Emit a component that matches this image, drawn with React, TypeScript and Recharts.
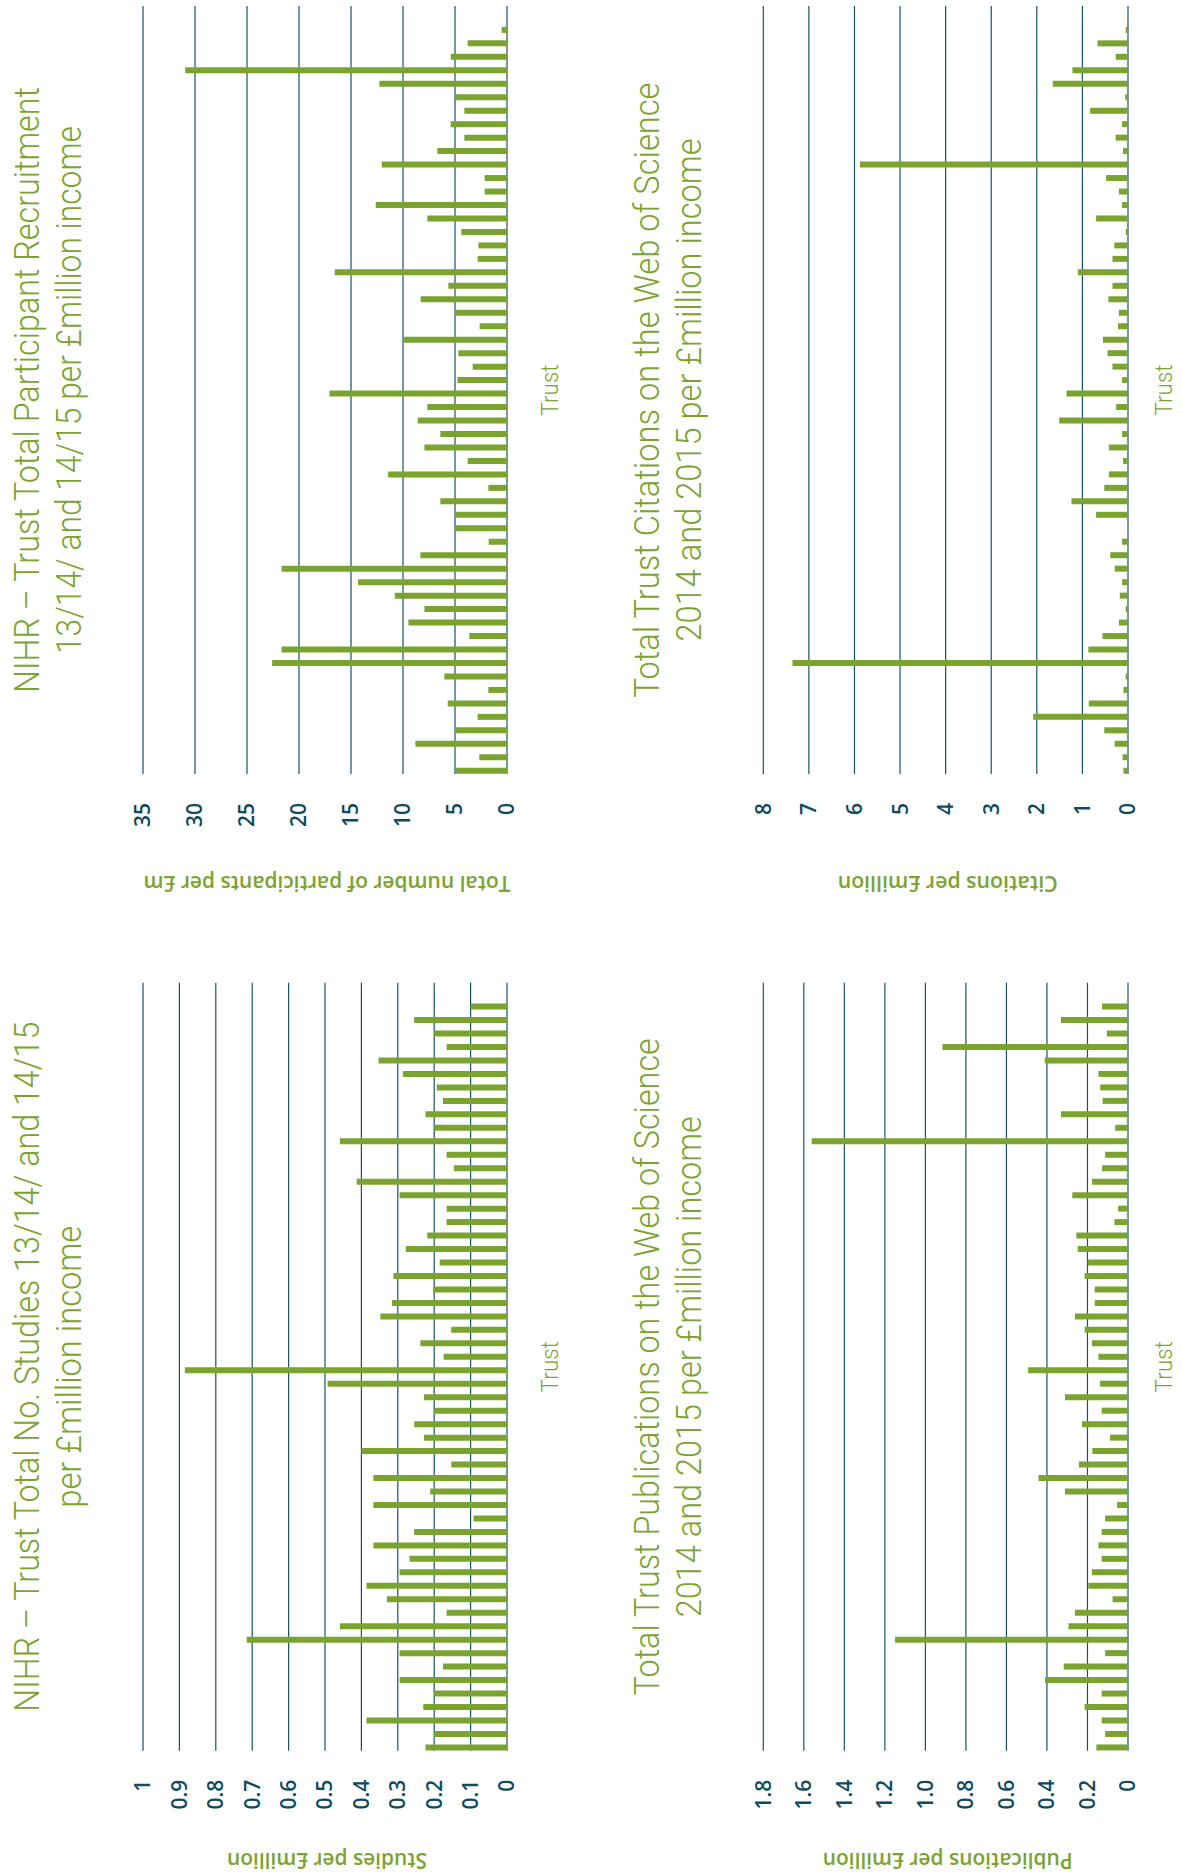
import React from "react";
import { BarChart, Bar, XAxis, YAxis, CartesianGrid } from "recharts";

// 56 trusts, same order in all four charts (first trust = left end of each axis)
const TRUSTS = [
    "T01", "T02", "T03", "T04", "T05", "T06", "T07", "T08", "T09", "T10",
    "T11", "T12", "T13", "T14", "T15", "T16", "T17", "T18", "T19", "T20",
    "T21", "T22", "T23", "T24", "T25", "T26", "T27", "T28", "T29", "T30",
    "T31", "T32", "T33", "T34", "T35", "T36", "T37", "T38", "T39", "T40",
    "T41", "T42", "T43", "T44", "T45", "T46", "T47", "T48", "T49", "T50",
    "T51", "T52", "T53", "T54", "T55", "T56",
];

const STUDIES = [
    0.224, 0.2, 0.386, 0.23, 0.2, 0.295, 0.176, 0.295, 0.715, 0.459,
    0.166, 0.33, 0.386, 0.295, 0.268, 0.367, 0.255, 0.092, 0.367, 0.211,
    0.367, 0.153, 0.4, 0.228, 0.255, 0.2, 0.228, 0.493, 0.885, 0.174,
    0.238, 0.153, 0.348, 0.316, 0.203, 0.312, 0.185, 0.278, 0.219, 0.166,
    0.166, 0.295, 0.413, 0.146, 0.166, 0.459, 0.2, 0.224, 0.176, 0.193,
    0.286, 0.353, 0.166, 0.2, 0.255, 0.1,
];

const PARTICIPANTS = [
    4.96, 2.66, 8.81, 4.93, 2.82, 5.7, 1.79, 6.02, 22.58, 21.68,
    3.62, 9.48, 7.94, 10.79, 14.32, 21.68, 8.33, 1.76, 4.96, 4.96,
    6.41, 1.79, 11.43, 3.78, 7.94, 6.41, 8.58, 7.66, 17.07, 4.77,
    3.3, 4.68, 9.96, 2.63, 4.93, 8.3, 5.64, 16.56, 2.82, 2.75,
    4.39, 7.66, 12.62, 2.15, 2.15, 12.04, 6.69, 4.1, 5.41, 4.1,
    4.96, 12.27, 30.94, 5.41, 3.78, 0.51,
];

const PUBLICATIONS = [
    0.156, 0.113, 0.13, 0.214, 0.13, 0.41, 0.317, 0.113, 1.15, 0.294,
    0.262, 0.076, 0.196, 0.178, 0.13, 0.146, 0.13, 0.113, 0.054, 0.311,
    0.442, 0.242, 0.176, 0.089, 0.227, 0.13, 0.311, 0.138, 0.493, 0.146,
    0.178, 0.214, 0.262, 0.164, 0.164, 0.214, 0.199, 0.248, 0.255, 0.067,
    0.049, 0.275, 0.178, 0.128, 0.113, 1.561, 0.063, 0.331, 0.125, 0.137,
    0.146, 0.411, 0.916, 0.104, 0.331, 0.128,
];

const CITATIONS = [
    0.1, 0.12, 0.29, 0.52, 2.08, 0.86, 0.1, 0.05, 7.36, 0.87,
    0.56, 0.2, 0.05, 0.18, 0.13, 0.29, 0.39, 0.13, 0, 0.7,
    1.24, 0.52, 0.42, 0.11, 0.42, 0.13, 1.51, 0.26, 1.35, 0.13,
    0.34, 0.45, 0.55, 0.22, 0.2, 0.43, 0.34, 1.1, 0.34, 0.3,
    0.05, 0.7, 0.13, 0.2, 0.48, 5.88, 0.11, 0.27, 0.13, 0.83,
    0.06, 1.65, 1.22, 0.27, 0.67, 0.05,
];

const STUDY_TICKS = [0, 0.1, 0.2, 0.3, 0.4, 0.5, 0.6, 0.7, 0.8, 0.9, 1];
const STUDY_TICK_LABELS = ["0", "0.1", "0.2", "0.3", "0.4", "0.5", "0.6", "0.7", "0.8", "0.9", "1"];
const PARTICIPANT_TICKS = [0, 5, 10, 15, 20, 25, 30, 35];
const PARTICIPANT_TICK_LABELS = ["0", "5", "10", "15", "20", "25", "30", "35"];
const PUBLICATION_TICKS = [0, 0.2, 0.4, 0.6, 0.8, 1, 1.2, 1.4, 1.6, 1.8];
const PUBLICATION_TICK_LABELS = ["0", "0.2", "0.4", "0.6", "0.8", "1.0", "1.2", "1.4", "1.6", "1.8"];
const CITATION_TICKS = [0, 1, 2, 3, 4, 5, 6, 7, 8];
const CITATION_TICK_LABELS = ["0", "1", "2", "3", "4", "5", "6", "7", "8"];

const GREEN = "#7ba32f";
const TEAL = "#0f4a5f";
const GRID = "#17526a";
const AXIS = "#0b4459";

// page is laid out landscape, then turned a quarter to the left
const PAGE_W = 1876;
const PAGE_H = 1182;
const BAND = 13.47;
const BAR = 6;
const Y_AXIS_W = 60;

const LEFT_X = [125.3, 893.3];
const RIGHT_X = [1102, 1870];
const TOP_Y = [143, 507];
const BOTTOM_Y = [763.3, 1128];

const PANELS = [
    {
        box: { x: 0, y: 0, w: 940, h: 560 },
        px: LEFT_X, py: TOP_Y,
        values: STUDIES, ticks: STUDY_TICKS, labels: STUDY_TICK_LABELS,
        title: ["NIHR – Trust Total No. Studies 13/14/ and 14/15", "per £million income"],
        titleW: [690, 282],
        axisTitle: "Studies per £million", axisW: 200,
    },
    {
        box: { x: 980, y: 0, w: 896, h: 560 },
        px: RIGHT_X, py: TOP_Y,
        values: PARTICIPANTS, ticks: PARTICIPANT_TICKS, labels: PARTICIPANT_TICK_LABELS,
        title: ["NIHR – Trust Total Participant Recruitment", "13/14/ and 14/15 per £million income"],
        titleW: [606, 528],
        axisTitle: "Total number of participants per £m", axisW: 367,
    },
    {
        box: { x: 0, y: 620, w: 940, h: 560 },
        px: LEFT_X, py: BOTTOM_Y,
        values: PUBLICATIONS, ticks: PUBLICATION_TICKS, labels: PUBLICATION_TICK_LABELS,
        title: ["Total Trust Publications on the Web of Science", "2014 and 2015 per £million income"],
        titleW: [657, 501],
        axisTitle: "Publications per £million", axisW: 250,
    },
    {
        box: { x: 980, y: 620, w: 896, h: 560 },
        px: RIGHT_X, py: BOTTOM_Y,
        values: CITATIONS, ticks: CITATION_TICKS, labels: CITATION_TICK_LABELS,
        title: ["Total Trust Citations on the Web of Science", "2014 and 2015 per £million income"],
        titleW: [615, 503],
        axisTitle: "Citations per £million", axisW: 220,
    },
];

const Panel = ({ panel }) => {
    const { box, px, py, values, ticks, labels } = panel;
    const data = TRUSTS.map((trust, i) => ({ trust, value: values[i] }));
    const padLeft = -(BAND - BAR) / 2;
    const padRight = px[1] - px[0] - TRUSTS.length * BAND - padLeft;

    return (
        <div style={{ position: "absolute", left: box.x, top: box.y }}>
            <BarChart
                width={box.w}
                height={box.h}
                data={data}
                margin={{
                    top: py[0] - box.y,
                    bottom: box.y + box.h - py[1],
                    left: px[0] - box.x - Y_AXIS_W,
                    right: box.x + box.w - px[1],
                }}
            >
                <CartesianGrid vertical={false} stroke={GRID} strokeWidth={1.2} />
                <YAxis
                    type="number"
                    domain={[ticks[0], ticks[ticks.length - 1]]}
                    ticks={ticks}
                    interval={0}
                    width={Y_AXIS_W}
                    axisLine={false}
                    tickLine={false}
                    tickSize={0}
                    tickMargin={29}
                    tickFormatter={(v) => labels[ticks.indexOf(v)]}
                    tick={{ fill: TEAL, fontSize: 21, fontFamily: "Open Sans", fontWeight: 600 }}
                />
                <Bar dataKey="value" fill={GREEN} barSize={BAR} isAnimationActive={false} />
                <XAxis
                    dataKey="trust"
                    type="category"
                    height={0}
                    tick={false}
                    tickLine={false}
                    interval={0}
                    padding={{ left: padLeft, right: padRight }}
                    axisLine={{ stroke: AXIS, strokeWidth: 2 }}
                />
            </BarChart>
        </div>
    );
};

// titles, axis titles and "Trust" captions
const Captions = () => (
    <svg
        width={PAGE_W}
        height={PAGE_H}
        style={{ position: "absolute", left: 0, top: 0, overflow: "visible" }}
    >
        {PANELS.map((p, i) => {
            const cx = (p.px[0] + p.px[1]) / 2;
            const cy = (p.py[0] + p.py[1]) / 2 + 2;
            // keep the bottom-row caption inside the page edge
            const trustY = Math.min(p.py[1] + 51, PAGE_H - 10);
            return (
                <g key={i} fill={GREEN}>
                    {p.title.map((line, j) => (
                        <text
                            key={j}
                            x={cx}
                            y={p.py[0] - (j === 0 ? 104 : 62)}
                            textAnchor="middle"
                            fontFamily="Roboto"
                            fontWeight={300}
                            fontSize={35}
                            textLength={p.titleW[j]}
                            lengthAdjust="spacingAndGlyphs"
                        >
                            {line}
                        </text>
                    ))}
                    <text
                        transform={`translate(${p.px[0] - 110},${cy}) rotate(-90)`}
                        textAnchor="middle"
                        dominantBaseline="central"
                        fontFamily="Open Sans"
                        fontWeight={600}
                        fontSize={21}
                        textLength={p.axisW}
                        lengthAdjust="spacingAndGlyphs"
                    >
                        {p.axisTitle}
                    </text>
                    <text
                        x={cx}
                        y={trustY}
                        textAnchor="middle"
                        fontFamily="Roboto"
                        fontWeight={300}
                        fontSize={24}
                        textLength={51}
                        lengthAdjust="spacingAndGlyphs"
                    >
                        Trust
                    </text>
                </g>
            );
        })}
    </svg>
);

export default function App() {
    return (
        <div
            style={{
                position: "absolute",
                left: 0,
                top: 0,
                width: PAGE_H,
                height: PAGE_W,
                overflow: "hidden",
                background: "#ffffff",
            }}
        >
            <div
                style={{
                    position: "absolute",
                    left: 0,
                    top: 0,
                    width: PAGE_W,
                    height: PAGE_H,
                    transformOrigin: "0 0",
                    transform: `translateY(${PAGE_W}px) rotate(-90deg)`,
                }}
            >
                {PANELS.map((p, i) => (
                    <Panel key={i} panel={p} />
                ))}
                <Captions />
            </div>
        </div>
    );
}
